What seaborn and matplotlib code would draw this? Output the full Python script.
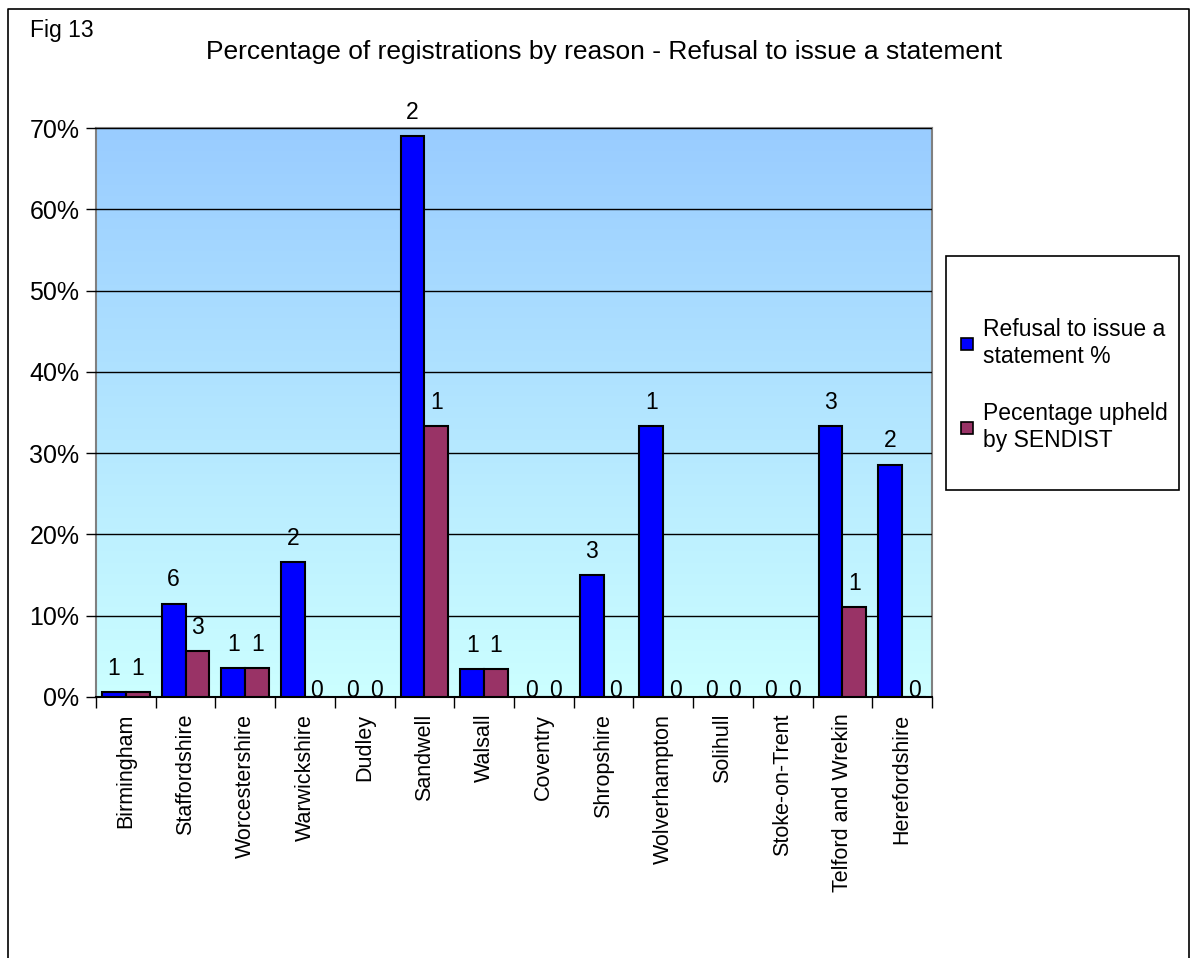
import numpy as np
import pandas as pd
import matplotlib
matplotlib.use('Agg')
import matplotlib.pyplot as plt
import seaborn as sns
from matplotlib.colors import LinearSegmentedColormap
from matplotlib.lines import Line2D
from matplotlib.patches import Rectangle

# data
categories = ['Birmingham', 'Staffordshire', 'Worcestershire', 'Warwickshire', 'Dudley',
              'Sandwell', 'Walsall', 'Coventry', 'Shropshire', 'Wolverhampton',
              'Solihull', 'Stoke-on-Trent', 'Telford and Wrekin', 'Herefordshire']
refusal_pct = [0.6, 11.5, 3.6, 16.6, 0, 69.0, 3.4, 0, 15.0, 33.3, 0, 0, 33.3, 28.6]
upheld_pct = [0.6, 5.7, 3.6, 0, 0, 33.3, 3.4, 0, 0, 0, 0, 0, 11.1, 0]
refusal_n = [1, 6, 1, 2, 0, 2, 1, 0, 3, 1, 0, 0, 3, 2]
upheld_n = [1, 3, 1, 0, 0, 1, 1, 0, 0, 0, 0, 0, 1, 0]
series = ['Refusal to issue a\nstatement %', 'Pecentage upheld\nby SENDIST']
colors = ['#0000FF', '#993366']
yticks = [0, 10, 20, 30, 40, 50, 60, 70]

df = pd.DataFrame({
    'area': categories * 2,
    'pct': refusal_pct + upheld_pct,
    'series': [series[0]] * len(categories) + [series[1]] * len(categories),
})

sns.set_style('white')
plt.rcParams['font.family'] = ['Liberation Sans', 'DejaVu Sans']
plt.rcParams['text.color'] = 'black'
plt.rcParams['xtick.color'] = 'black'
plt.rcParams['ytick.color'] = 'black'

W, H = 1193, 958
fig = plt.figure(figsize=(W / 100, H / 100), dpi=100)
ax = fig.add_axes([96 / W, 1 - 697 / H, 836 / W, 569 / H])

# gradient fill of the plot area
grad = LinearSegmentedColormap.from_list('bg', ['#CCFFFF', '#99CCFF'])
ax.imshow(np.linspace(0, 1, 256).reshape(-1, 1), cmap=grad, origin='lower',
          extent=[-0.5, len(categories) - 0.5, 0, 70], aspect='auto', zorder=0)

sns.barplot(data=df, x='area', y='pct', hue='series', order=categories,
            hue_order=series, palette=colors, width=0.8,
            edgecolor='black', linewidth=1.5, saturation=1, ax=ax, zorder=3)

ax.set_xlim(-0.5, len(categories) - 0.5)
ax.set_ylim(0, 70)
ax.set_yticks(yticks)
ax.set_yticklabels([f'{t}%' for t in yticks])
ax.yaxis.grid(True, color='black', linewidth=1)
ax.set_axisbelow(False)
for gl in ax.get_ygridlines():
    gl.set_zorder(1)
ax.set_xlabel('')
ax.set_ylabel('')

# tick marks between the categories, names centred and turned
ax.set_xticks(range(len(categories)))
ax.set_xticklabels(categories, rotation=90)
ax.set_xticks(np.arange(-0.5, len(categories), 1), minor=True)
ax.tick_params(axis='x', which='major', length=0, pad=12, labelsize=15.5, labelcolor='black')
ax.tick_params(axis='x', which='minor', length=8, width=1, color='black', direction='out')
ax.tick_params(axis='y', length=7, width=1, color='black', direction='out', labelsize=18,
               pad=5, labelcolor='black')
ax.tick_params(bottom=True, left=True, which='both')

for sp in ax.spines.values():
    sp.set_color('#808080')
    sp.set_linewidth(1.5)
ax.spines['bottom'].set_color('black')

# counts written over the bars
for cont, counts in zip(ax.containers, [refusal_n, upheld_n]):
    for bar, c in zip(cont, counts):
        h = bar.get_height()
        off = 17 if h > 0 else 5
        ax.annotate(str(c), (bar.get_x() + bar.get_width() / 2, h),
                    xytext=(0, off), textcoords='offset points', ha='center', va='center',
                    fontsize=16.5, color='black', zorder=5, annotation_clip=False)

# legend
if ax.get_legend():
    ax.get_legend().remove()
handles = [Line2D([], [], marker='s', linestyle='', markersize=9,
                  markerfacecolor=c, markeredgecolor='black', markeredgewidth=1.2)
           for c in colors]
fig.add_artist(Rectangle((946 / W, 1 - 490 / H), 233 / W, 234 / H, transform=fig.transFigure,
                         facecolor='white', edgecolor='black', linewidth=1.2))
leg = fig.legend(handles, series, loc='upper left', bbox_to_anchor=(960 / W, 1 - 318 / H),
                 fontsize=16.5, frameon=False, borderpad=0, borderaxespad=0,
                 labelspacing=1.5, handletextpad=0.42, handlelength=0.6, labelcolor='black')

fig.text(30 / W, 1 - 30 / H, 'Fig 13', fontsize=16.5, va='center', ha='left', color='black')
fig.text(604 / W, 1 - 52 / H,
         'Percentage of registrations by reason - Refusal to issue a statement',
         fontsize=19, va='center', ha='center', color='black')

# outer chart border
fig.add_artist(Line2D([8 / W, 8 / W, 1189 / W, 1189 / W],
                      [0, 1 - 9 / H, 1 - 9 / H, 0], color='black', linewidth=1.2))

fig.savefig('out.png', dpi=100)
